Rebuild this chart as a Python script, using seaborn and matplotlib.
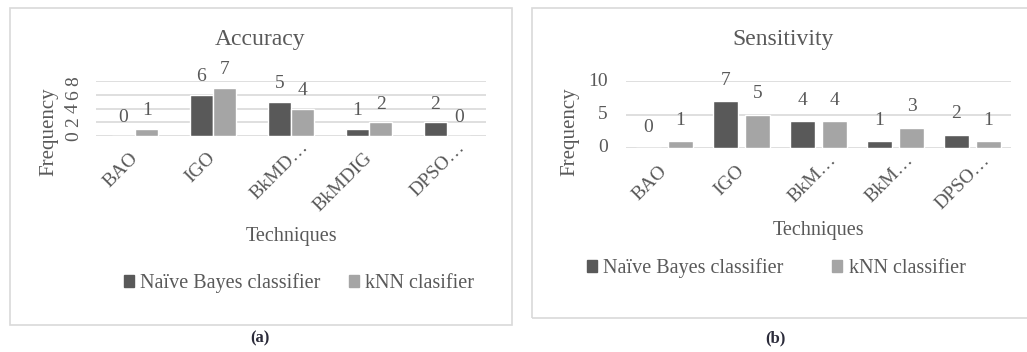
import pandas as pd
import matplotlib
matplotlib.use("Agg")
import matplotlib.pyplot as plt
import matplotlib.transforms as mtransforms
import seaborn as sns
from matplotlib.patches import Rectangle

# data
techniques = ["BAO", "IGO", "BkMD…", "BkMDIG", "DPSO…"]
acc_ticks = ["BAO", "IGO", "BkMD…", "BkMDIG", "DPSO…"]
sens_ticks = ["BAO", "IGO", "BkM…", "BkM…", "DPSO…"]
acc_nb = [0, 6, 5, 1, 2]
acc_knn = [1, 7, 4, 2, 0]
sens_nb = [0, 7, 4, 1, 2]
sens_knn = [1, 5, 4, 3, 1]
acc_series = ["Naïve Bayes classifier", "kNN clasifier"]
sens_series = ["Naïve Bayes classifier", "kNN classifier"]

W, H = 1027, 352
TXT = "#595959"
GRID = "#D9D9D9"
BAR_COLORS = ["#595959", "#A5A5A5"]

sns.set_theme(style="white")
plt.rcParams["font.family"] = ["Liberation Serif", "DejaVu Serif"]
plt.rcParams["text.color"] = TXT
plt.rcParams["axes.labelcolor"] = TXT
plt.rcParams["xtick.color"] = TXT
plt.rcParams["ytick.color"] = TXT

fig = plt.figure(figsize=(W / 100, H / 100), dpi=100)
fig.patch.set_facecolor("white")


def fx(x):
    return x / W


def fy(y):
    return 1 - y / H


def long_df(nb, knn, names):
    return pd.DataFrame({
        "Technique": techniques * 2,
        "Frequency": nb + knn,
        "Classifier": [names[0]] * len(nb) + [names[1]] * len(knn),
    })


def shift(label, dx, dy):
    # nudge a tick label by a few pixels
    off = mtransforms.ScaledTranslation(dx / 100, dy / 100, fig.dpi_scale_trans)
    label.set_transform(label.get_transform() + off)


def panel(rect, df, names, ticks, ymax, ystep, title, title_xy, xlab_y, ylab_xy,
          leg_xy, colspace, width, gap, lab_pad, ytick_rot, ytick_pad, xtick_pad, caption_xy, caption):
    ax = fig.add_axes(rect)
    sns.barplot(data=df, x="Technique", y="Frequency", hue="Classifier",
                hue_order=names, order=techniques, palette=BAR_COLORS,
                width=width, gap=gap, ax=ax, saturation=1, legend=False)
    for cont in ax.containers:
        ax.bar_label(cont, padding=lab_pad, fontsize=14, color=TXT)
    ax.set_ylim(0, ymax)
    ax.set_xlim(-0.5, len(techniques) - 0.5)
    ax.set_yticks(range(0, ymax + 1, ystep))
    ax.yaxis.grid(True, color=GRID, lw=1.2)
    ax.set_axisbelow(True)
    for s in ax.spines.values():
        s.set_visible(False)
    ax.tick_params(length=0, labelsize=14)
    ax.tick_params(axis="y", pad=ytick_pad)
    ax.tick_params(axis="x", pad=xtick_pad)
    ax.set_xticks(range(len(ticks)))
    ax.set_xticklabels(ticks, rotation=45, ha="right", rotation_mode="anchor")
    for t in ax.get_xticklabels():
        if t.get_text().endswith("…"):
            shift(t, 9, 13)
        else:
            shift(t, -6, 2)
    for t in ax.get_yticklabels():
        t.set_rotation(ytick_rot)
        t.set_va("center")
    ax.set_xlabel("Techniques", fontsize=14.5)
    ax.xaxis.set_label_coords(*xlab_y)
    ax.xaxis.label.set_va("center")
    ax.set_ylabel("Frequency", fontsize=15)
    ax.yaxis.set_label_coords(*ylab_xy)
    ax.yaxis.label.set_va("center")
    fig.text(fx(title_xy[0]), fy(title_xy[1]), title, fontsize=17, ha="center", va="center")
    handles = [Rectangle((0, 0), 1, 1, color=c) for c in BAR_COLORS]
    fig.legend(handles, names, loc="center", bbox_to_anchor=(fx(leg_xy[0]), fy(leg_xy[1])),
               ncol=2, frameon=False, fontsize=14.5, handlelength=0.5, handleheight=0.5,
               handletextpad=0.3, columnspacing=colspace, labelcolor=TXT)
    fig.text(fx(caption_xy[0]), fy(caption_xy[1]), caption, fontsize=12, ha="center",
             va="center", color="#2b2b3a", fontweight="bold")
    return ax


# panel frames
fig.add_artist(Rectangle((fx(10), fy(325)), fx(502), 317 / H, transform=fig.transFigure,
                         fill=False, edgecolor=GRID, lw=1.2))
fig.add_artist(Rectangle((fx(532), fy(318)), fx(520), 310 / H, transform=fig.transFigure,
                         fill=False, edgecolor=GRID, lw=1.2))

panel([fx(96), fy(136), fx(390), 55 / H], long_df(acc_nb, acc_knn, acc_series), acc_series,
      acc_ticks, 8, 2, "Accuracy", (260, 39), (0.5, (136 - 237) / 55), ((49 - 96) / 390, 0.07),
      (299, 283), 1.4, 0.6, 0, 7, 90, 10, 11, (260, 338), "(a)")

panel([fx(626), fy(148), fx(385), 67 / H], long_df(sens_nb, sens_knn, sens_series), sens_series,
      sens_ticks, 10, 5, "Sensitivity", (783, 39), (0.5, (148 - 230) / 67), ((570 - 626) / 385, 0.24),
      (776, 268), 2.45, 0.83, 0.2, 9, 0, 13, 12, (775, 338), "(b)")

fig.savefig("out.png", dpi=100, facecolor="white")
